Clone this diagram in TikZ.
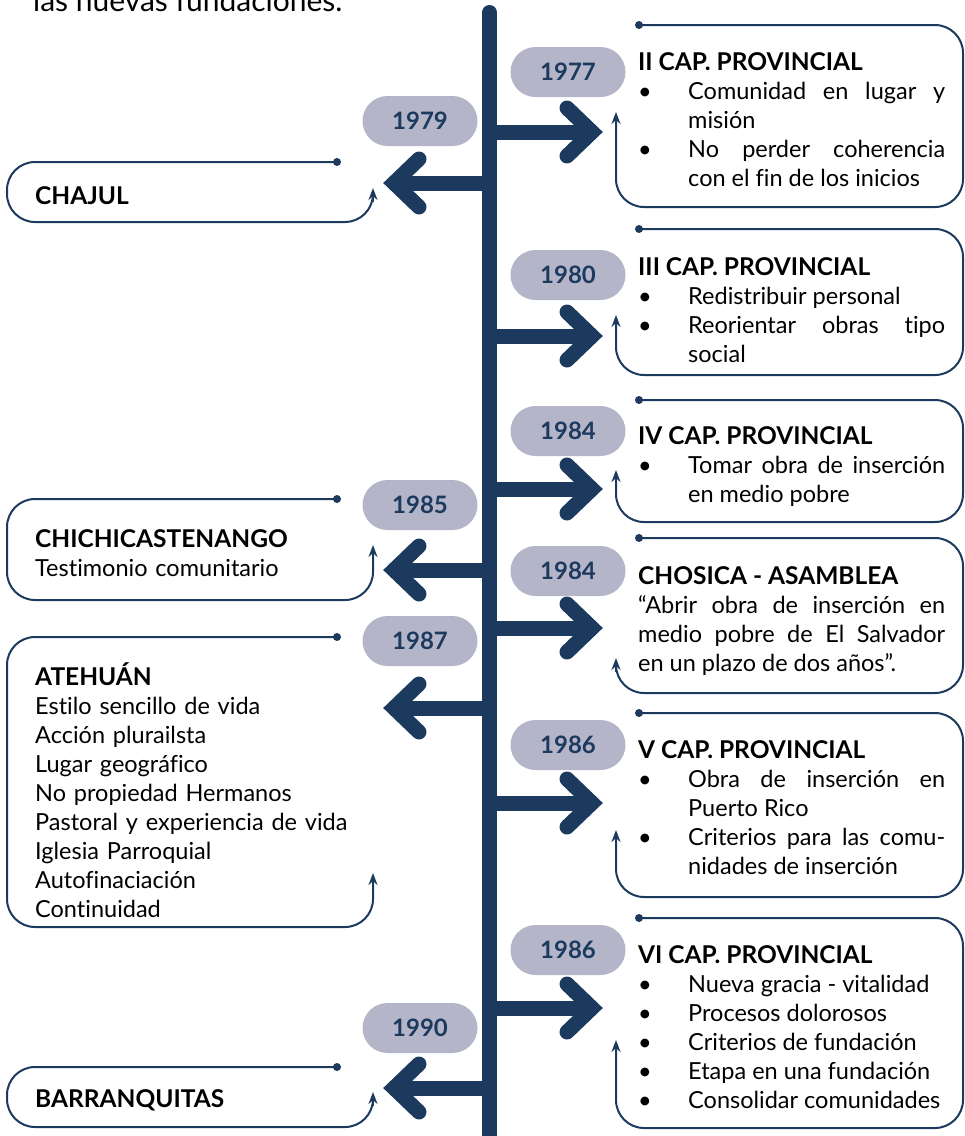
\documentclass[tikz,border=0pt]{standalone}
\usepackage{fontspec}
\setmainfont{Lato}[Ligatures=NoCommon]
\usetikzlibrary{arrows.meta}
\definecolor{navy}{RGB}{28,57,94}
\definecolor{pillgray}{RGB}{181,181,201}
\newcommand\bitem[1]{\par\noindent\hangindent=50pt\hangafter=1\makebox[50pt][l]{\hspace{0pt}\textbullet}#1}
\newcommand\hd[1]{{\fontsize{24.5}{29}\selectfont\bfseries #1}}

\begin{document}
\begin{tikzpicture}[x=1pt,y=-1pt,>=Stealth,
 spine/.style={line width=15pt,navy,line cap=round},
 armbar/.style={line width=15pt,navy},
 chev/.style={line width=15pt,navy,line cap=round,line join=miter},
 yearpill/.style={fill=pillgray,rounded corners=25pt,minimum width=115pt,minimum height=50pt,inner sep=0pt,text=navy,font=\fontsize{24}{28}\selectfont\bfseries},
 boxline/.style={navy,line width=2pt,rounded corners=28pt},
 boxtip/.style={navy,line width=2pt,-{Stealth[length=12pt,width=9pt]}},
 rtext/.style={anchor=base west,text width=307pt,align=justify,inner sep=0pt,font=\fontsize{23.5}{29}\selectfont},
 ltext/.style={anchor=base west,text width=330pt,align=left,inner sep=0pt,font=\fontsize{23.5}{29}\selectfont}]
\useasboundingbox (0,0) rectangle (965,1136);
\node[anchor=base west,inner sep=0pt,font=\fontsize{30}{34}\selectfont] (intro) at (33,11) {las nuevas fundaciones.};
% timeline
\draw[spine] (489.5,12.5) -- (489.5,1150);
\foreach \y/\n in {132/r1,336/r2,489/r3,628/r4,803/r5,1008/r6} {
  \coordinate (\n) at (592,\y);
  \draw[armbar] (489.5,\y) -- (\n);
  \draw[chev] (567,\y-24) -- (\n) -- (567,\y+24);
}
\foreach \y/\n in {183/l1,570/l2,708/l3,1088/l4} {
  \coordinate (\n) at (394,\y);
  \draw[armbar] (489.5,\y) -- (\n);
  \draw[chev] (419,\y-24) -- (\n) -- (419,\y+24);
}
% years
\foreach \x/\y/\t/\n in {568/72/1977/p1,420/121/1979/p2,568/275/1980/p3,568/431/1984/p4,420/505/1985/p5,
  568/571/1984/p6,420/641/1987/p7,568/745/1986/p8,568/950/1986/p9,420/1028/1990/p10}
  \node[yearpill] (\n) at (\x,\y) {\t};
% frames
\foreach \t/\b/\a in {25/207/112,229/375/315,400/522/470,538/693/658,713/897/830,918/1128/1040} {
  \fill[navy] (639,\t) circle (4pt);
  \draw[boxline] (639,\t) -- (963,\t) -- (963,\b) -- (616,\b) -- (616,\a+6);
  \draw[boxtip] (616,\a+14) -- (616,\a);
}
\foreach \t/\b/\a in {162/222/188,499/600/545,637/927/873,1067/1127/1092} {
  \fill[navy] (337,\t) circle (4pt);
  \draw[boxline] (337,\t) -- (7,\t) -- (7,\b) -- (373,\b) -- (373,\a+6);
  \draw[boxtip] (373,\a+14) -- (373,\a);
}
% right texts
\node[rtext] (cap2) at (638,70) {\hd{II CAP. PROVINCIAL}
  \bitem{Comunidad en lugar y\linebreak misión}
  \bitem{No perder coherencia\linebreak con el fin de los inicios}\par};
\node[rtext] (cap3) at (638,275) {\hd{III CAP. PROVINCIAL}
  \bitem{Redistribuir personal}
  \bitem{Reorientar obras tipo\linebreak social}\par};
\node[rtext] (cap4) at (638,444) {\hd{IV CAP. PROVINCIAL}
  \bitem{Tomar obra de inserción\linebreak en medio pobre}\par};
\node[rtext] (chosica) at (638,584) {\hd{CHOSICA - ASAMBLEA}\par
  “Abrir obra de inserción en\linebreak medio pobre de El Salvador\linebreak en un plazo de dos años”.\par};
\node[rtext] (cap5) at (638,758) {\hd{V CAP. PROVINCIAL}
  \bitem{Obra de inserción en\linebreak Puerto Rico}
  \bitem{Criterios para las comu-\linebreak nidades de inserción}\par};
\node[rtext] (cap6) at (638,963) {\hd{VI CAP. PROVINCIAL}
  \bitem{Nueva gracia - vitalidad}
  \bitem{Procesos dolorosos}
  \bitem{Criterios de fundación}
  \bitem{Etapa en una fundación}
  \bitem{Consolidar comunidades}\par};
% left texts
\node[ltext] (chajul) at (35,204) {\hd{CHAJUL}};
\node[ltext] (chichi) at (35,547) {\hd{CHICHICASTENANGO}\\Testimonio comunitario};
\node[ltext] (atehuan) at (35,685) {\hd{ATEHUÁN}\\Estilo sencillo de vida\\Acción plurailsta\\Lugar geográfico\\
  No propiedad Hermanos\\Pastoral y experiencia de vida\\Iglesia Parroquial\\Autofinaciación\\Continuidad};
\node[ltext] (barranq) at (35,1107) {\hd{BARRANQUITAS}};
\end{tikzpicture}
\end{document}
